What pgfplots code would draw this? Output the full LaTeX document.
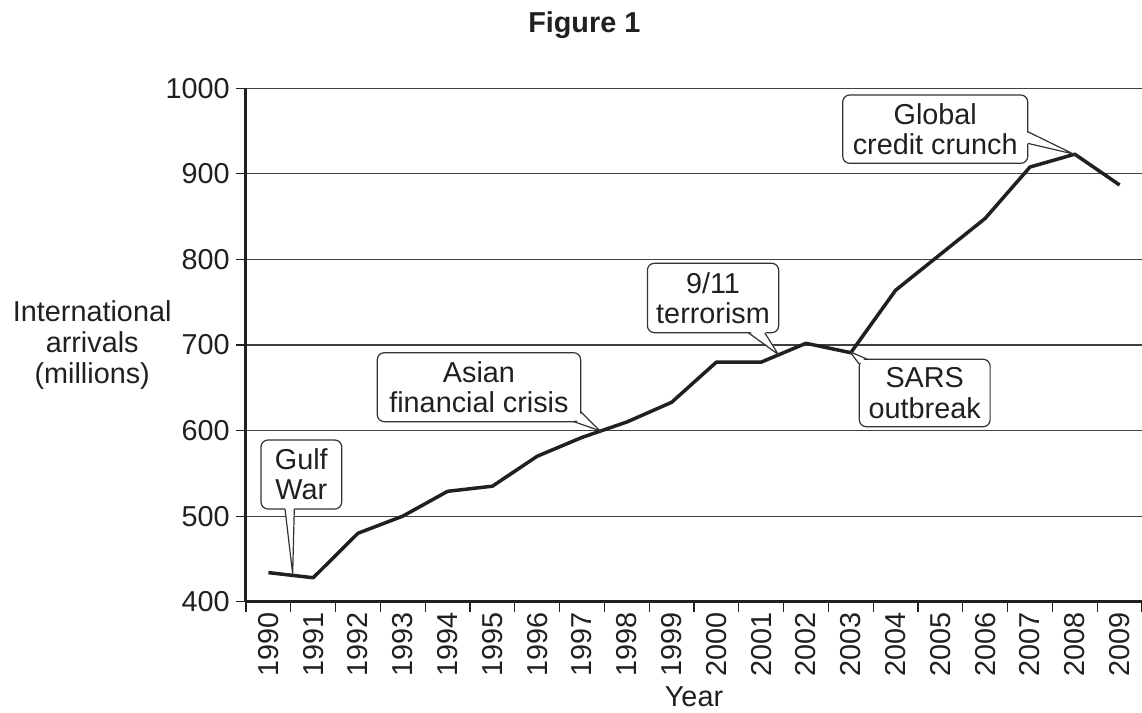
\documentclass[border=0pt]{standalone}
\usepackage{pgfplots}
\pgfplotsset{compat=1.18}
\usepackage{fontspec}
\setmainfont{Liberation Sans}
\definecolor{ink}{HTML}{231F20}
\tikzset{
  cbox/.style={line width=0.6pt, draw=black!80, fill=white, rounded corners=3.5pt},
  cptr/.style={line width=0.6pt, draw=black!80},
}
\begin{document}
\begin{tikzpicture}[font=\fontsize{14.4}{15.2}\selectfont, color=ink]
\begin{axis}[
  at={(0,0)}, anchor=south west,
  scale only axis, width=448pt, height=256.7pt,
  xmin=-0.5, xmax=19.5, ymin=400, ymax=1000,
  axis x line*=bottom, axis y line*=left,
  axis line style={line width=1.5pt, -, color=ink},
  xtick={0,...,19},
  xticklabels={1990,1991,1992,1993,1994,1995,1996,1997,1998,1999,2000,2001,2002,2003,2004,2005,2006,2007,2008,2009},
  major x tick style={draw=none},
  minor xtick={-0.5,0.5,...,19.5},
  ytick={400,500,...,1000},
  tick align=outside,
  major tick length=5pt, minor tick length=5pt,
  tick style={line width=0.6pt, color=ink},
  ymajorgrids, grid style={line width=0.6pt, color=black!75},
  xticklabel style={rotate=90, anchor=east, inner sep=0pt, yshift=0pt},
  yticklabel style={inner sep=0pt, xshift=-3pt},
  /pgf/number format/assume math mode=true,
  /pgf/number format/1000 sep={},
  clip=false,
]
\addplot[line width=1.75pt, color=ink, line join=round] coordinates {
(0,434)(1,428)(2,480)(3,500)(4,529)(5,535)(6,570)(7,592)(8,610)(9,633)
(10,680)(11,680)(12,702)(13,691)(14,764)(15,806)(16,848)(17,908)(18,923)(19,887)};

% Gulf War
\draw[cbox] (axis cs:-0.165,589) rectangle (axis cs:1.636,508.3);
\node[align=center] at (axis cs:0.735,548.7) {Gulf\\War};
\fill[white] ([yshift=1.2pt]axis cs:0.371,508.3) -- (axis cs:0.542,432.4) -- ([yshift=1.2pt]axis cs:0.578,508.3) -- cycle;
\draw[cptr] (axis cs:0.371,508.3) -- (axis cs:0.542,432.4) -- (axis cs:0.578,508.3);

% Asian financial crisis
\draw[cbox] (axis cs:2.43,691) rectangle (axis cs:6.97,610.4);
\node[align=center] at (axis cs:4.70,650.7) {Asian\\financial crisis};
\fill[white] ([yshift=1.2pt]axis cs:6.82,610.4) -- (axis cs:7.40,599.8) -- ([xshift=-1.2pt]axis cs:6.97,622) -- ([xshift=-2pt,yshift=2pt]axis cs:6.97,610.4) -- cycle;
\draw[cptr] (axis cs:6.82,610.4) -- (axis cs:7.40,599.8) -- (axis cs:6.97,622);

% 9/11 terrorism
\draw[cbox] (axis cs:8.46,795.5) rectangle (axis cs:11.39,714.4);
\node[align=center] at (axis cs:9.925,755) {9/11\\terrorism};
\fill[white] ([yshift=1.2pt]axis cs:10.71,714.4) -- (axis cs:11.38,689) -- ([yshift=1.2pt]axis cs:11.08,714.4) -- cycle;
\draw[cptr] (axis cs:10.71,714.4) -- (axis cs:11.38,689) -- (axis cs:11.08,714.4);

% SARS outbreak
\draw[cbox] (axis cs:13.19,683.3) rectangle (axis cs:16.11,604.5);
\node[align=center] at (axis cs:14.65,643.9) {SARS\\outbreak};
\fill[white] ([yshift=-1.2pt]axis cs:13.37,683.3) -- (axis cs:12.98,692.2) -- ([xshift=1.2pt]axis cs:13.19,677.6) -- ([xshift=2pt,yshift=-2pt]axis cs:13.19,683.3) -- cycle;
\draw[cptr] (axis cs:13.37,683.3) -- (axis cs:12.98,692.2) -- (axis cs:13.19,677.6);

% Global credit crunch
\draw[cbox] (axis cs:12.82,992.2) rectangle (axis cs:16.95,912.3);
\node[align=center] at (axis cs:14.885,952.2) {Global\\credit crunch};
\fill[white] ([xshift=-1.2pt]axis cs:16.95,949.3) -- (axis cs:17.97,923.2) -- ([xshift=-1.2pt]axis cs:16.95,935.7) -- cycle;
\draw[cptr] (axis cs:16.95,949.3) -- (axis cs:17.97,923.2) -- (axis cs:16.95,935.7);
\end{axis}

\node[font=\fontsize{14.4}{15.2}\selectfont\bfseries, anchor=base] at (169.15pt,284.7pt) {Figure 1};
\node[anchor=base] at (224pt,-52.3pt) {Year};
\node[align=center, font=\fontsize{14.4}{15.5}\selectfont] at (-76.9pt,128.4pt) {International\\arrivals\\(millions)};

\pgfresetboundingbox
\path (-123pt,-55.65pt) rectangle (448pt,300.85pt);
\end{tikzpicture}
\end{document}
